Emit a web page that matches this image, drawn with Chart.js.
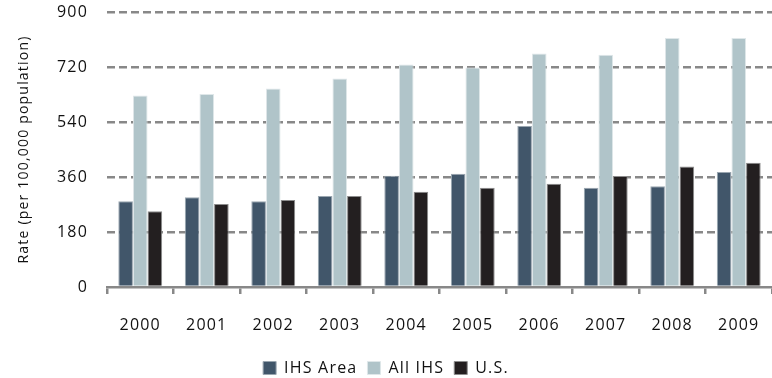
<!DOCTYPE html>
<html>
<head>
<meta charset="utf-8">
<script src="https://cdn.jsdelivr.net/npm/chart.js@4/dist/chart.umd.min.js"></script>
<style>
  html, body { margin: 0; padding: 0; background: #fff; }
  #wrap { width: 772px; height: 378px; }
</style>
</head>
<body>
<div id="wrap"><canvas id="rateChart"></canvas></div>
<script>
'use strict';

//***********Chart data***********
let years = ['2000', '2001', '2002', '2003', '2004', '2005', '2006', '2007', '2008', '2009'];
let ihsArea = [281, 294, 281, 298, 364, 371, 527, 325, 330, 376];
let allIhs = [627, 632, 650, 682, 728, 718, 764, 760, 815, 815];
let usRate = [248, 272, 285, 298, 312, 325, 338, 363, 394, 407];
let yTicks = [0, 180, 360, 540, 720, 900];

//***********Styles***********
let gridGrey = '#888888';
let textColor = '#111111';
Chart.defaults.font.family = '"Open Sans", sans-serif';
Chart.defaults.color = textColor;

// canvas letter spacing gets wiped on resize, so set it again before each pass
let spacingPlugin = {
  id: 'spacing',
  beforeLayout(chart) { chart.ctx.letterSpacing = '1.2px'; },
  beforeDraw(chart) { chart.ctx.letterSpacing = '1.2px'; }
};

let ctx = document.getElementById('rateChart').getContext('2d');

new Chart(ctx, {
  type: 'bar',
  data: {
    labels: years,
    datasets: [{
      label: 'IHS Area',
      data: ihsArea,
      backgroundColor: '#41566a',
      borderColor: '#9aa6b0',
      borderWidth: 1
    },
    {
      label: 'All IHS',
      data: allIhs,
      backgroundColor: '#b0c4c9',
      borderColor: '#dfe7e9',
      borderWidth: 1
    },
    {
      label: 'U.S.',
      data: usRate,
      backgroundColor: '#231f20',
      borderColor: '#8c8c8c',
      borderWidth: 1
    }]
  },
  options: {
    responsive: true,
    maintainAspectRatio: false,
    animation: false,
    categoryPercentage: 0.66,
    barPercentage: 1.0,
    layout: {
      padding: { top: 12, right: 0, bottom: -8, left: 0 }
    },
    plugins: {
      tooltip: { enabled: false },
      legend: {
        position: 'bottom',
        labels: {
          boxWidth: 13,
          boxHeight: 13,
          padding: 10,
          font: { size: 16 },
          color: textColor
        }
      }
    },
    scales: {
      x: {
        border: { display: true, color: gridGrey, width: 2.5 },
        grid: {
          display: true,
          offset: true,
          drawOnChartArea: false,
          drawTicks: true,
          tickLength: 7,
          color: gridGrey,
          lineWidth: 2.5
        },
        ticks: { padding: 22, font: { size: 16 }, color: textColor },
        afterFit(scale) {
          scale.height = 63;
          scale.paddingLeft = 0;
          scale.paddingRight = 0;
        }
      },
      y: {
        min: 0,
        max: 900,
        afterBuildTicks(scale) {
          scale.ticks = yTicks.map(v => ({ value: v }));
        },
        border: { display: false, dash: [8, 4] },
        grid: {
          drawTicks: false,
          color: c => (c.tick && c.tick.value === 0 ? 'rgba(0,0,0,0)' : gridGrey),
          lineWidth: 2.5
        },
        ticks: { padding: 19, font: { size: 16 }, color: textColor },
        title: {
          display: true,
          text: 'Rate (per 100,000 population)',
          font: { size: 14 },
          color: textColor,
          padding: { top: 16, bottom: 0 }
        },
        afterFit(scale) {
          scale.width = 107;
          scale.paddingTop = 0;
          scale.paddingBottom = 0;
        }
      }
    }
  },
  plugins: [spacingPlugin]
});
</script>
</body>
</html>
